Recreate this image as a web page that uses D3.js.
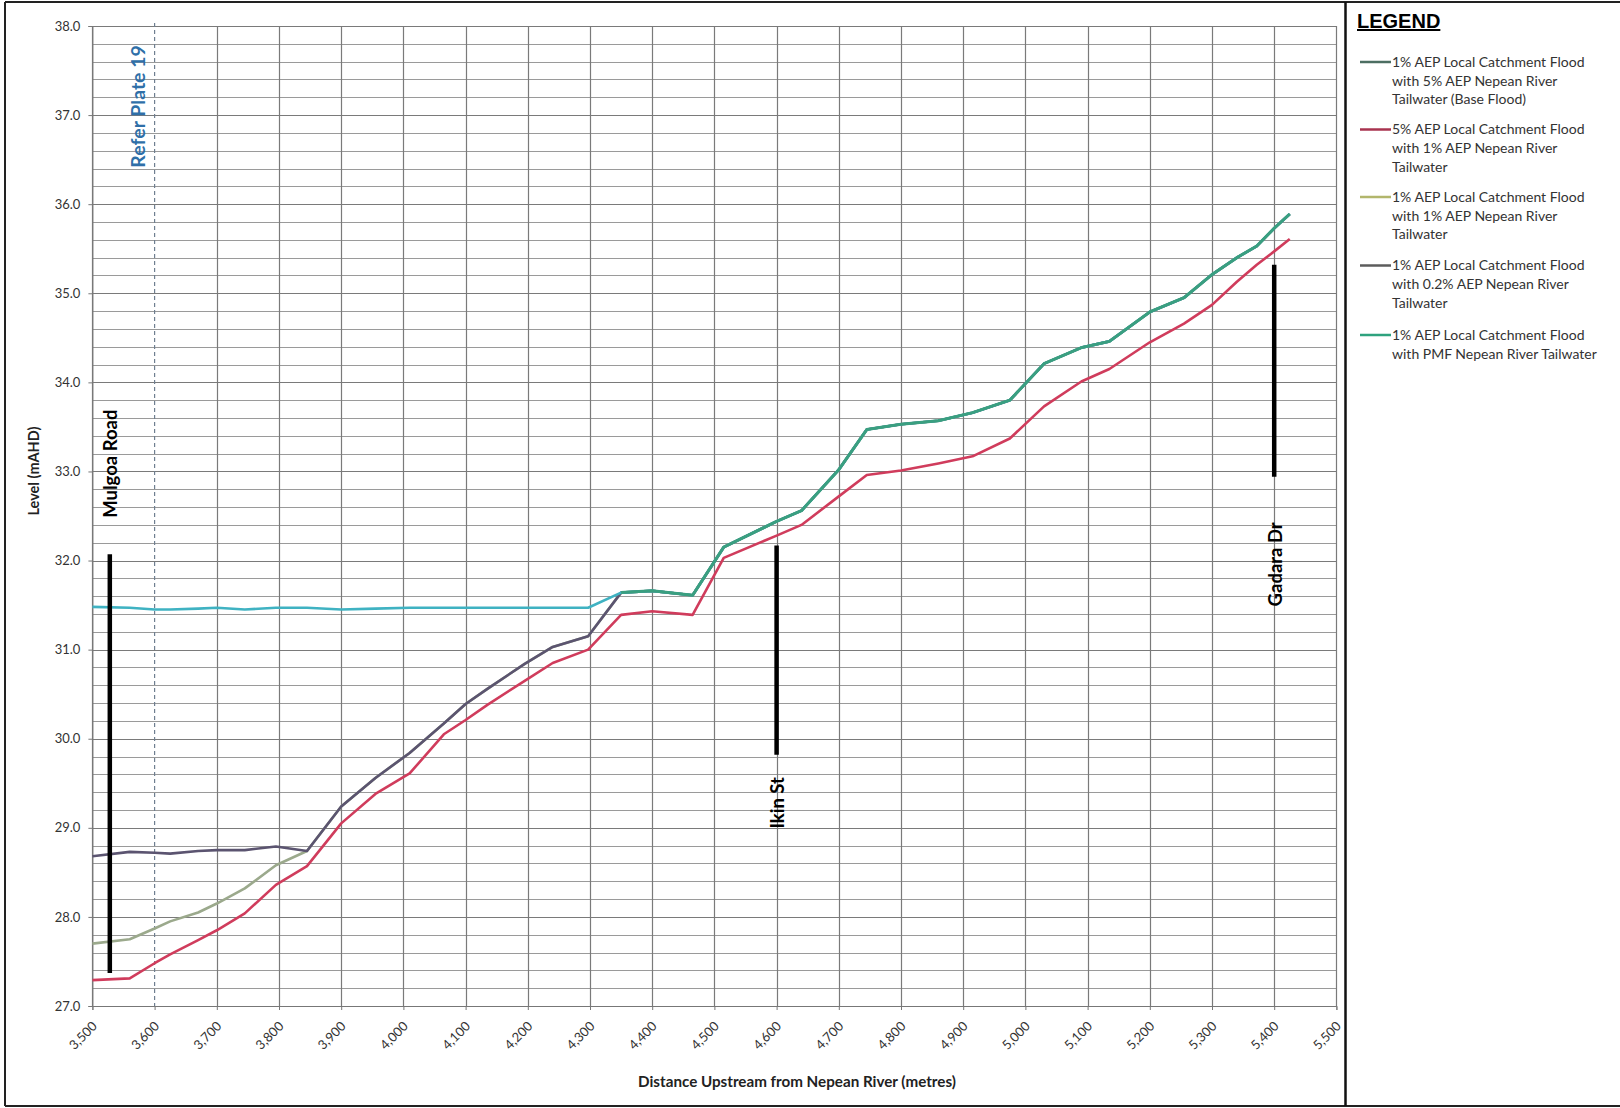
<!DOCTYPE html>
<html><head><meta charset="utf-8">
<script src="https://cdn.jsdelivr.net/npm/d3@7"></script>
<style>
html,body{margin:0;padding:0;background:#fff;}
svg{display:block;font-family:Lato,"Liberation Sans",Arial,sans-serif;}
</style></head><body>
<svg id="chart" width="1620" height="1108"></svg>
<script>
// ---------- DATA ----------
const distances = [3500, 3560, 3600, 3625, 3670, 3700, 3745, 3795, 3845, 3900, 3955, 4010, 4065, 4100, 4135, 4195, 4240, 4297, 4350, 4400, 4465, 4515, 4600, 4640, 4700, 4745, 4800, 4860, 4915, 4975, 5030, 5090, 5135, 5200, 5255, 5300, 5340, 5372, 5400, 5425];

// 1% AEP local with 5% AEP Nepean (Base Flood) - visible only where it lies on top
const baseFlood = [null, null, null, null, null, null, null, null, null, null, null, null, null, null, null, null, null, null,
  31.64, 31.66, 31.61, 32.15, 32.44, 32.56, 33.02, 33.47, 33.53, 33.57, 33.66, 33.80, 34.21, 34.39, 34.46, 34.79, 34.95, 35.21, 35.40, 35.53, 35.73, 35.89];
// 5% AEP local with 1% AEP Nepean
const local5Nepean1 = [27.29, 27.31, 27.48, 27.58, 27.74, 27.85, 28.04, 28.36, 28.57, 29.05, 29.38, 29.61, 30.05, 30.21, 30.38, 30.65, 30.85, 31.00,
  31.39, 31.43, 31.39, 32.03, 32.28, 32.40, 32.72, 32.96, 33.01, 33.09, 33.17, 33.37, 33.73, 34.01, 34.15, 34.45, 34.66, 34.87, 35.13, 35.32, 35.47, 35.61];
// 1% AEP local with 1% AEP Nepean
const local1Nepean1 = [27.70, 27.75, 27.87, 27.95, 28.05, 28.15, 28.32, 28.58, 28.74, 29.24, 29.56, 29.84, 30.17, 30.39, 30.56, 30.84, 31.03, 31.15,
  31.64, 31.66, 31.61, 32.15, 32.44, 32.56, 33.02, 33.47, 33.53, 33.57, 33.66, 33.80, 34.21, 34.39, 34.46, 34.79, 34.95, 35.21, 35.40, 35.53, 35.73, 35.89];
// 1% AEP local with 0.2% AEP Nepean
const local1Nepean02 = [28.68, 28.73, 28.72, 28.71, 28.74, 28.75, 28.75, 28.79, 28.74, 29.24, 29.56, 29.84, 30.17, 30.39, 30.56, 30.84, 31.03, 31.15,
  31.64, 31.66, 31.61, 32.15, 32.44, 32.56, 33.02, 33.47, 33.53, 33.57, 33.66, 33.80, 34.21, 34.39, 34.46, 34.79, 34.95, 35.21, 35.40, 35.53, 35.73, 35.89];
// 1% AEP local with PMF Nepean
const local1NepeanPMF = [31.48, 31.47, 31.45, 31.45, 31.46, 31.47, 31.45, 31.47, 31.47, 31.45, 31.46, 31.47, 31.47, 31.47, 31.47, 31.47, 31.47, 31.47,
  31.64, 31.66, 31.61, 32.15, 32.44, 32.56, 33.02, 33.47, 33.53, 33.57, 33.66, 33.80, 34.21, 34.39, 34.46, 34.79, 34.95, 35.21, 35.40, 35.53, 35.73, 35.89];

const legendLabels = [
  ["1% AEP Local Catchment Flood", "with 5% AEP Nepean River", "Tailwater (Base Flood)"],
  ["5% AEP Local Catchment Flood", "with 1% AEP Nepean River", "Tailwater"],
  ["1% AEP Local Catchment Flood", "with 1% AEP Nepean River", "Tailwater"],
  ["1% AEP Local Catchment Flood", "with 0.2% AEP Nepean River", "Tailwater"],
  ["1% AEP Local Catchment Flood", "with PMF Nepean River Tailwater"]
];
const xTicks = [3500, 3600, 3700, 3800, 3900, 4000, 4100, 4200, 4300, 4400, 4500, 4600, 4700, 4800, 4900, 5000, 5100, 5200, 5300, 5400, 5500];
const yTicks = [27, 28, 29, 30, 31, 32, 33, 34, 35, 36, 37, 38];

const roads = [
  {name: "Mulgoa Road", dist: 3528, from: 27.37, to: 32.07, labelAt: 32.48, anchor: "start"},
  {name: "Ikin St", dist: 4600, from: 29.82, to: 32.17, labelAt: 29.57, anchor: "end"},
  {name: "Gadara Dr", dist: 5400, from: 32.94, to: 35.32, labelAt: 32.43, anchor: "end"}
];
const referPlate = {dist: 3600, label: "Refer Plate 19", labelAt: 36.41};

// ---------- STYLE ----------
const seriesValues = [baseFlood, local5Nepean1, local1Nepean1, local1Nepean02, local1NepeanPMF];
const lineColors = ["#3a9f80", "#d03c5c", "#9ba98c", "#5b5470", "#3fb2c2"];
const legendColors = ["#4c6e62", "#a8334f", "#b2b66c", "#5c5c5c", "#2ea27e"];
const drawOrder = [2, 3, 1, 4, 0];

const svg = d3.select("#chart");
const x = d3.scaleLinear().domain([3500, 5500]).range([92.4, 1336.4]);
const y = d3.scaleLinear().domain([27, 38]).range([1006, 26]);

// outer frame
svg.append("line").attr("x1", 5).attr("x2", 1620).attr("y1", 2).attr("y2", 2).attr("stroke", "#222").attr("stroke-width", 2);
svg.append("line").attr("x1", 5).attr("x2", 1620).attr("y1", 1106).attr("y2", 1106).attr("stroke", "#222").attr("stroke-width", 2);
svg.append("line").attr("x1", 5).attr("x2", 5).attr("y1", 2).attr("y2", 1106).attr("stroke", "#222").attr("stroke-width", 2);
svg.append("line").attr("x1", 1345.5).attr("x2", 1345.5).attr("y1", 2).attr("y2", 1106).attr("stroke", "#111").attr("stroke-width", 2.5);

// grid
const grid = svg.append("g");
const minor = d3.range(27, 38.001, 0.2).map(v => +v.toFixed(1)).filter(v => Math.abs(v - Math.round(v)) > 0.01);
grid.selectAll(".hmin").data(minor).join("line")
  .attr("x1", x(3500)).attr("x2", x(5500))
  .attr("y1", d => Math.round(y(d)) + 0.5).attr("y2", d => Math.round(y(d)) + 0.5)
  .attr("stroke", "#9a9a9a").attr("stroke-width", 1);
grid.selectAll(".hmaj").data(yTicks).join("line")
  .attr("x1", x(3500)).attr("x2", x(5500))
  .attr("y1", d => Math.round(y(d)) + 0.5).attr("y2", d => Math.round(y(d)) + 0.5)
  .attr("stroke", "#7a7a7a").attr("stroke-width", 1.2);
grid.selectAll(".v").data(xTicks.filter(d => d !== referPlate.dist)).join("line")
  .attr("x1", d => Math.round(x(d)) + 0.5).attr("x2", d => Math.round(x(d)) + 0.5)
  .attr("y1", y(38)).attr("y2", y(27))
  .attr("stroke", "#7a7a7a").attr("stroke-width", 1.2);

// refer plate dashed line
svg.append("line")
  .attr("x1", x(referPlate.dist)).attr("x2", x(referPlate.dist))
  .attr("y1", y(38) - 3).attr("y2", y(27))
  .attr("stroke", "#6f7f90").attr("stroke-width", 1.2).attr("stroke-dasharray", "4,3");
svg.append("text")
  .attr("transform", `translate(${x(referPlate.dist) - 10},${y(referPlate.labelAt)}) rotate(-90)`)
  .attr("text-anchor", "start")
  .attr("font-size", 19.5).attr("font-weight", "bold").attr("fill", "#2f6fa8")
  .text(referPlate.label);

// axes
const yAxis = d3.axisLeft(y).tickValues(yTicks).tickFormat(d3.format(".1f")).tickSize(4).tickPadding(8);
const gy = svg.append("g").attr("transform", `translate(${x(3500)},0)`).call(yAxis);
gy.select(".domain").attr("stroke", "#777");
gy.selectAll(".tick line").attr("stroke", "#777");
gy.selectAll("text").attr("font-size", 13).attr("fill", "#333").attr("font-family", "Lato, Liberation Sans, Arial");

const xAxis = d3.axisBottom(x).tickValues(xTicks).tickFormat(d3.format(",")).tickSize(4);
const gx = svg.append("g").attr("transform", `translate(0,${y(27)})`).call(xAxis);
gx.select(".domain").attr("stroke", "#777");
gx.selectAll(".tick line").attr("stroke", "#777");
gx.selectAll("text")
  .attr("font-size", 13).attr("fill", "#333").attr("font-family", "Lato, Liberation Sans, Arial")
  .attr("text-anchor", "end").attr("dy", null).attr("y", null)
  .attr("transform", "translate(5,21) rotate(-45)");

// axis titles
svg.append("text").attr("x", 797).attr("y", 1087).attr("text-anchor", "middle")
  .attr("font-size", 15.2).attr("font-weight", "bold").attr("fill", "#222")
  .text("Distance Upstream from Nepean River (metres)");
svg.append("text").attr("transform", "translate(39,471) rotate(-90)").attr("text-anchor", "middle")
  .attr("font-size", 14.5).attr("font-weight", "bold").attr("fill", "#222")
  .text("Level  (mAHD)");

// series
const line = d3.line().defined(d => d[1] != null).x(d => x(d[0])).y(d => y(d[1]));
const gl = svg.append("g");
drawOrder.forEach(i => {
  const pts = distances.map((d, k) => [d, seriesValues[i][k]]);
  gl.append("path").datum(pts).attr("d", line)
    .attr("fill", "none").attr("stroke", lineColors[i])
    .attr("stroke-width", i === 0 ? 3 : 2.6).attr("stroke-linejoin", "round");
});

// road annotations
roads.forEach(r => {
  svg.append("line").attr("x1", x(r.dist)).attr("x2", x(r.dist))
    .attr("y1", y(r.to)).attr("y2", y(r.from))
    .attr("stroke", "#000").attr("stroke-width", 4.5);
  svg.append("text")
    .attr("transform", `translate(${x(r.dist) + 1},${y(r.labelAt)}) rotate(-90)`)
    .attr("text-anchor", r.anchor).attr("dy", "0.36em")
    .attr("font-size", 18.5).attr("font-weight", "bold").attr("fill", "#000")
    .text(r.name);
});

// legend
svg.append("text").attr("x", 1357).attr("y", 28).attr("font-size", 20).attr("font-weight", "bold")
  .attr("fill", "#000").attr("text-decoration", "underline").attr("font-family", "Liberation Sans, Arial")
  .text("LEGEND");
const legendTop = [62, 129.5, 197, 265.5, 335];
legendLabels.forEach((lines, i) => {
  const g = svg.append("g").attr("transform", `translate(0,${legendTop[i]})`);
  g.append("line").attr("x1", 1360).attr("x2", 1391).attr("y1", 0).attr("y2", 0)
    .attr("stroke", legendColors[i]).attr("stroke-width", 2.5);
  lines.forEach((t, j) => {
    g.append("text").attr("x", 1392).attr("y", j * 18.6).attr("dy", "0.35em")
      .attr("font-size", 14).attr("fill", "#333").text(t);
  });
});
</script>
</body></html>
